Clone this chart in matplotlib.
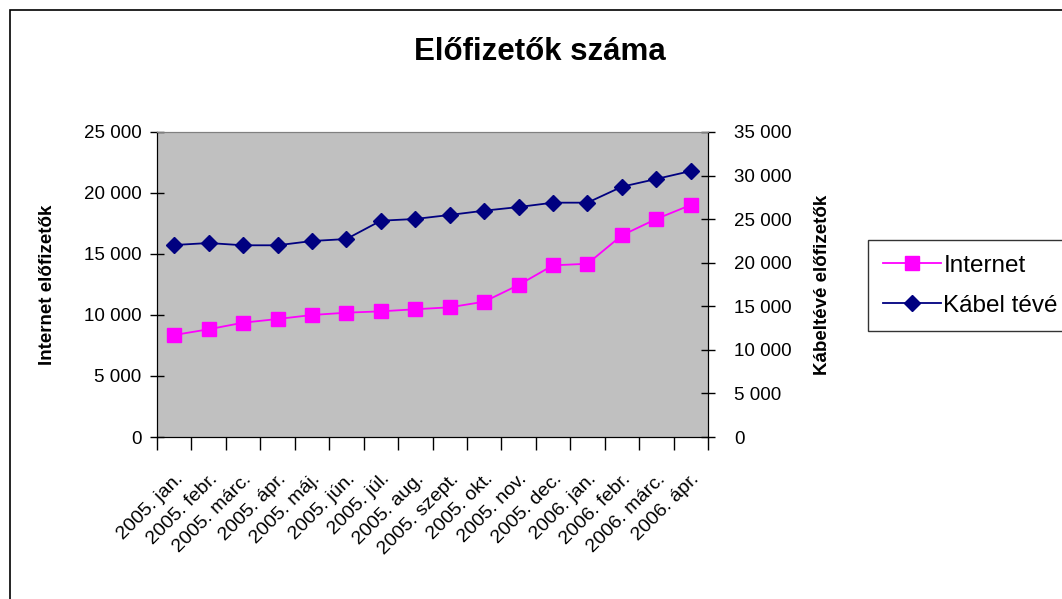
import matplotlib
matplotlib.use("Agg")
import matplotlib.pyplot as plt
from matplotlib.ticker import FuncFormatter, FixedLocator
from matplotlib.patches import Rectangle

plt.rcParams['font.family'] = ['Liberation Sans', 'DejaVu Sans']

months = ["2005. jan.", "2005. febr.", "2005. márc.", "2005. ápr.", "2005. máj.",
          "2005. jún.", "2005. júl.", "2005. aug.", "2005. szept.", "2005. okt.",
          "2005. nov.", "2005. dec.", "2006. jan.", "2006. febr.", "2006. márc.",
          "2006. ápr."]
internet = [8360, 8830, 9370, 9670, 10000, 10190, 10300, 10470, 10630, 11090,
            12460, 14070, 14200, 16530, 17870, 19020]
kabel = [22030, 22260, 22000, 22000, 22490, 22720, 24820, 25020, 25480, 25970,
         26390, 26890, 26890, 28720, 29610, 30520]

W, H = 1062, 599
fig = plt.figure(figsize=(W / 100, H / 100), dpi=100)
fig.patch.set_facecolor("white")
fig.patches.append(Rectangle((10 / W, -0.1), 1.2, 1 - 10 / H + 0.1, transform=fig.transFigure,
                             fill=False, edgecolor="black", linewidth=1.2))

ax = fig.add_axes([157 / W, 1 - 437 / H, (708 - 157) / W, (437 - 132) / H])
ax.set_facecolor("#C0C0C0")
ax2 = ax.twinx()

x = list(range(len(months)))
fmt = FuncFormatter(lambda v, p: f"{int(round(v)):,}".replace(",", " "))

l1, = ax.plot(x, internet, color="#FF00FF", marker="s", markersize=10, linewidth=1.3,
              label="Internet")
l2, = ax2.plot(x, kabel, color="#000080", marker="D", markersize=8, linewidth=1.3,
               label="Kábel tévé")

ax.set_xlim(-0.5, len(months) - 0.5)
ax.set_ylim(0, 25000)
ax2.set_ylim(0, 35000)
ax.set_yticks(range(0, 25001, 5000))
ax2.set_yticks(range(0, 35001, 5000))
ax.yaxis.set_major_formatter(fmt)
ax2.yaxis.set_major_formatter(fmt)

ax.xaxis.set_major_locator(FixedLocator([i - 0.5 for i in range(len(months) + 1)]))
ax.xaxis.set_minor_locator(FixedLocator(x))
ax.set_xticklabels([""] * (len(months) + 1))
ax.set_xticklabels(months, minor=True, rotation=45, ha="right", rotation_mode="anchor",
                   fontsize=14)
ax.tick_params(axis="x", which="major", length=9, width=1, direction="out")
ax.tick_params(axis="x", which="minor", length=0, pad=24)
ax.tick_params(axis="y", which="major", length=10, width=1, direction="inout",
               labelsize=13.5, pad=6)
ax2.tick_params(axis="y", which="major", length=10, width=1, direction="inout",
                labelsize=13.5, pad=14)

for a in (ax, ax2):
    a.spines["top"].set_color("#808080")
    a.spines["left"].set_color("black")
    a.spines["right"].set_color("black")
    a.spines["bottom"].set_color("black")

ax.set_ylabel("Internet előfizetők", fontsize=13.5, fontweight="bold", labelpad=20)
ax2.set_ylabel("Kábeltévé előfizetők", fontsize=13.5, fontweight="bold", labelpad=16)

fig.text(540 / W, 1 - 52 / H, "Előfizetők száma", ha="center", va="center",
         fontsize=22.5, fontweight="bold")

leg = fig.legend(handles=[l1, l2], loc="upper left", bbox_to_anchor=(868 / W, 1 - 240 / H),
                 bbox_transform=fig.transFigure, fontsize=17.5, frameon=True, fancybox=False,
                 edgecolor="black", handlelength=2.4, borderaxespad=0, labelspacing=0.75,
                 handletextpad=0.1, borderpad=0.6)
leg.get_frame().set_linewidth(1.0)

fig.savefig("out.png", dpi=100, facecolor="white")
